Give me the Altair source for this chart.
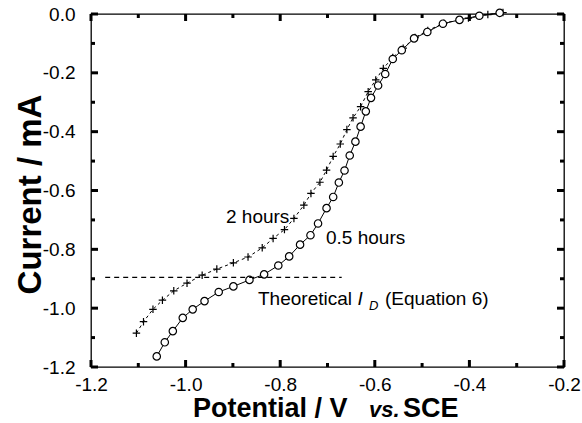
import altair as alt
import pandas as pd

# ---- data ----
pot_05h = [-1.061, -1.044, -1.027, -1.006, -0.985, -0.960, -0.930, -0.899, -0.865, -0.834,
           -0.804, -0.781, -0.758, -0.736, -0.720, -0.702, -0.688, -0.676, -0.664, -0.653,
           -0.641, -0.630, -0.619, -0.608, -0.593, -0.578, -0.562, -0.543, -0.517, -0.489,
           -0.456, -0.421, -0.379, -0.336]
cur_05h = [-1.164, -1.116, -1.078, -1.033, -1.004, -0.976, -0.945, -0.926, -0.904, -0.885,
           -0.855, -0.824, -0.784, -0.752, -0.712, -0.660, -0.622, -0.573, -0.532, -0.481,
           -0.434, -0.383, -0.331, -0.285, -0.243, -0.204, -0.153, -0.123, -0.083, -0.061,
           -0.033, -0.020, -0.006, 0.004]

pot_2h = [-1.104, -1.089, -1.069, -1.049, -1.025, -0.997, -0.965, -0.934, -0.899, -0.868,
          -0.838, -0.815, -0.791, -0.771, -0.750, -0.735, -0.716, -0.702, -0.688, -0.673,
          -0.659, -0.646, -0.630, -0.614, -0.598, -0.582, -0.562, -0.540, -0.515, -0.488,
          -0.454, -0.402, -0.361, -0.329]
cur_2h = [-1.085, -1.046, -1.004, -0.973, -0.941, -0.915, -0.888, -0.867, -0.846, -0.826,
          -0.795, -0.763, -0.733, -0.695, -0.650, -0.610, -0.572, -0.531, -0.484, -0.442,
          -0.393, -0.353, -0.315, -0.264, -0.224, -0.185, -0.148, -0.116, -0.080, -0.056,
          -0.031, -0.014, -0.002, 0.005]

x_major = [-1.2, -1.0, -0.8, -0.6, -0.4, -0.2]
x_minor = [-1.1, -0.9, -0.7, -0.5, -0.3]
y_major = [0.0, -0.2, -0.4, -0.6, -0.8, -1.0, -1.2]
y_minor = [-0.1, -0.3, -0.5, -0.7, -0.9, -1.1]

theory_current = -0.895
theory_pot = [-1.17, -0.67]

label_2h = "2 hours"
label_05h = "0.5 hours"
theory_parts = ["Theoretical", "I", "D", "(Equation 6)"]
x_title_parts = ["Potential / V", "vs.", "SCE"]
y_title = "Current / mA"

FONT = "Liberation Sans"
W, H = 473, 353
MAJ, MIN = 7, 4
TICK_W = 3

df05 = pd.DataFrame({"pot": pot_05h, "cur": cur_05h})
df2 = pd.DataFrame({"pot": pot_2h, "cur": cur_2h})

xs = alt.Scale(domain=[-1.2, -0.2], nice=False, zero=False)
ys = alt.Scale(domain=[-1.2, 0.0], nice=False, zero=False)

LBL = "replace(format(datum.value, '.1f'), '\u2212', '-')"

x_label_axis = alt.Axis(orient="bottom", values=x_major, labelExpr=LBL, labelFontSize=19,
                        labelFont=FONT, labelColor="black", labelPadding=8, labelFlush=False,
                        ticks=False, domain=False, grid=False, title=None)
y_label_axis = alt.Axis(orient="left", values=y_major, labelExpr=LBL, labelFontSize=19,
                        labelFont=FONT, labelColor="black", labelPadding=16, ticks=False,
                        domain=False, grid=False, title=y_title, titleFont=FONT,
                        titleFontSize=33, titleFontWeight="bold", titleColor="black",
                        titleAngle=270, titleX=-61, titleY=180, titleAlign="center",
                        titleBaseline="middle")

base05 = alt.Chart(df05)
base2 = alt.Chart(df2)

line05 = base05.mark_line(color="black", strokeWidth=1).encode(
    x=alt.X("pot:Q", scale=xs, axis=x_label_axis),
    y=alt.Y("cur:Q", scale=ys, axis=y_label_axis),
)
pts05 = base05.mark_point(shape="circle", filled=True, fill="white", stroke="black",
                          strokeWidth=1.2, size=55, opacity=1).encode(
    x=alt.X("pot:Q", scale=xs),
    y=alt.Y("cur:Q", scale=ys),
)
line2 = base2.mark_line(color="black", strokeWidth=1, strokeDash=[3, 3]).encode(
    x=alt.X("pot:Q", scale=xs),
    y=alt.Y("cur:Q", scale=ys),
)
pts2 = base2.mark_point(shape="M-1,0L1,0M0,-1L0,1", filled=False, stroke="black",
                        strokeWidth=1.2, size=56, opacity=1).encode(
    x=alt.X("pot:Q", scale=xs),
    y=alt.Y("cur:Q", scale=ys),
)
theory = alt.Chart(pd.DataFrame({"c": [theory_current]})).mark_rule(
    color="black", strokeWidth=1.2, strokeDash=[5, 4]).encode(
    x=alt.X(datum=theory_pot[0], type="quantitative", scale=xs),
    x2=alt.X2(datum=theory_pot[1]),
    y=alt.Y("c:Q", scale=ys),
)


# inward tick marks on all four sides, placed through the scales
def xticks(values, p0, p1):
    return alt.Chart(pd.DataFrame({"v": values})).mark_rule(
        color="black", strokeWidth=TICK_W).encode(
        x=alt.X("v:Q", scale=xs), y=alt.value(p0), y2=alt.value(p1))


def yticks(values, p0, p1):
    return alt.Chart(pd.DataFrame({"v": values})).mark_rule(
        color="black", strokeWidth=TICK_W).encode(
        y=alt.Y("v:Q", scale=ys), x=alt.value(p0), x2=alt.value(p1))


ticks = [
    xticks(x_major, H - MAJ, H), xticks(x_minor, H - MIN, H),
    xticks(x_major, 0, MAJ), xticks(x_minor, 0, MIN),
    yticks(y_major, 0, MAJ), yticks(y_minor, 0, MIN),
    yticks(y_major, W - MAJ, W), yticks(y_minor, W - MIN, W),
]


def text_at(txt, x, y, size=19, style="normal", dx=0, dy=0, weight="normal"):
    return alt.Chart(pd.DataFrame({"t": [txt]})).mark_text(
        font=FONT, fontSize=size, fontStyle=style, fontWeight=weight, align="left",
        baseline="alphabetic", dx=dx, dy=dy, color="black").encode(
        x=alt.X(datum=x, type="quantitative", scale=xs),
        y=alt.Y(datum=y, type="quantitative", scale=ys),
        text="t:N",
    )


def text_px(txt, x, y, size, style="normal", weight="bold"):
    return alt.Chart(pd.DataFrame({"t": [txt]})).mark_text(
        font=FONT, fontSize=size, fontStyle=style, fontWeight=weight, align="left",
        baseline="alphabetic", color="black").encode(
        x=alt.value(x), y=alt.value(y), text="t:N")


texts = [
    text_at(label_2h, -0.9146, -0.709),
    text_at(label_05h, -0.7032, -0.7826),
    text_at(theory_parts[0], -0.8469, -0.99),
    text_at(theory_parts[1], -0.8469, -0.99, style="italic", dx=99.5),
    text_at(theory_parts[2], -0.8469, -0.99, size=13, style="italic", dx=111, dy=5),
    text_at(theory_parts[3], -0.8469, -0.99, dx=127),
    text_px(x_title_parts[0], 102, 402.7, 27),
    text_px(x_title_parts[1], 278, 402.7, 22, style="italic"),
    text_px(x_title_parts[2], 312, 402.7, 27),
]

chart = alt.layer(line2, line05, pts2, pts05, theory, *ticks, *texts).properties(
    width=W, height=H,
    padding={"left": 91, "top": 14, "right": 18, "bottom": 56},
    autosize=alt.AutoSizeParams(type="none"),
    background="white",
).configure_view(stroke="black", strokeWidth=1.3)

chart.save("out.html", embed_options={"renderer": "svg", "actions": False})
